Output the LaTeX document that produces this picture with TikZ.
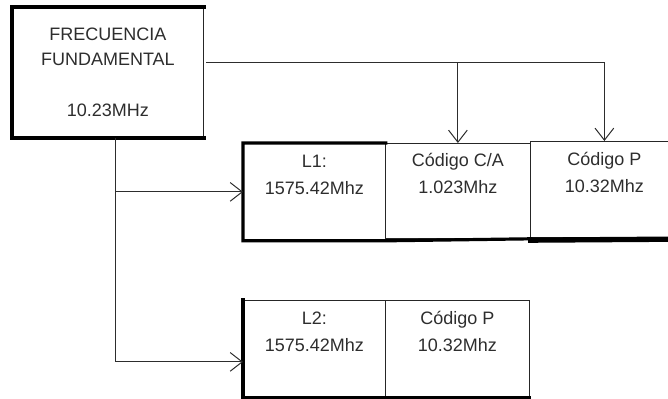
\documentclass[tikz,border=0pt]{standalone}
\usepackage{fontspec}
\setmainfont{Liberation Sans}
\usetikzlibrary{arrows.meta,positioning,calc}
\definecolor{inkcolor}{RGB}{45,45,45}
\tikzset{
  cell/.style={draw=black!85, line width=0.6pt, anchor=north west, align=center,
    inner sep=0pt, text=inkcolor, font=\fontsize{13.5}{20}\selectfont},
  connln/.style={draw=inkcolor, line width=0.75pt},
  arrowln/.style={connln, -{Straight Barb[length=9pt,width=14pt,line width=0.75pt]}},
  rimln/.style={line width=2.4pt, black, line cap=rect},
}
\begin{document}
\begin{tikzpicture}[x=0.75pt, y=-0.75pt]
    \useasboundingbox (0,0) rectangle (668,399);
    \begin{scope}
    \clip (0,0) rectangle (668,399);
    % source box
    \node[cell, minimum width=143.25pt, minimum height=97.5pt,
      font=\fontsize{13.5}{19}\selectfont] (fund) at (12,7)
      {FRECUENCIA\\FUNDAMENTAL\\[19pt]10.23MHz};
    % first row
    \node[cell, minimum width=106.5pt, minimum height=72.75pt] (l1) at (243,143)
      {L1:\\1575.42Mhz\\\strut};
    \node[cell, minimum width=108.75pt, minimum height=71.25pt] (ca1) at (385,143)
      {Código C/A\\1.023Mhz\\\strut};
    \node[cell, minimum width=111pt, minimum height=72pt] (p1) at (530,141)
      {Código P\\10.32Mhz\\\strut};
    % second row
    \node[cell, minimum width=106.5pt, minimum height=72.75pt] (l2) at (243,300)
      {L2:\\1575.42Mhz\\\strut};
    \node[cell, minimum width=108pt, minimum height=72.75pt] (p2) at (385,300)
      {Código P\\10.32Mhz\\\strut};
    % heavy rims
    \draw[rimln, line width=3pt] (fund.north east) -- (fund.north west)
      -- (fund.south west) -- (fund.south east);
    \draw[rimln] (l1.north east) -- (l1.north west) -- (l1.south west)
      -- (l1.south east) -- (ca1.south east);
    \draw[rimln, line width=4pt] ([yshift=-1pt]ca1.south east) -- ([yshift=-1pt]p1.south east);
    \draw[rimln] (l2.north west) -- (l2.south west) -- (p2.south east);
    % connectors
    \coordinate (tap) at ([yshift=7.5pt]fund.east);
    \coordinate (drop) at ([xshift=5.6pt]fund.south);
    \draw[arrowln] ([xshift=2pt]tap) -| (p1.north);
    \draw[arrowln] (ca1.north |- tap) -- (ca1.north);
    \draw[arrowln] (drop |- l1.west) -- (l1.west);
    \draw[arrowln] (drop) |- ([yshift=-9.75pt]l2.west);
    \end{scope}
  \end{tikzpicture}
\end{document}
